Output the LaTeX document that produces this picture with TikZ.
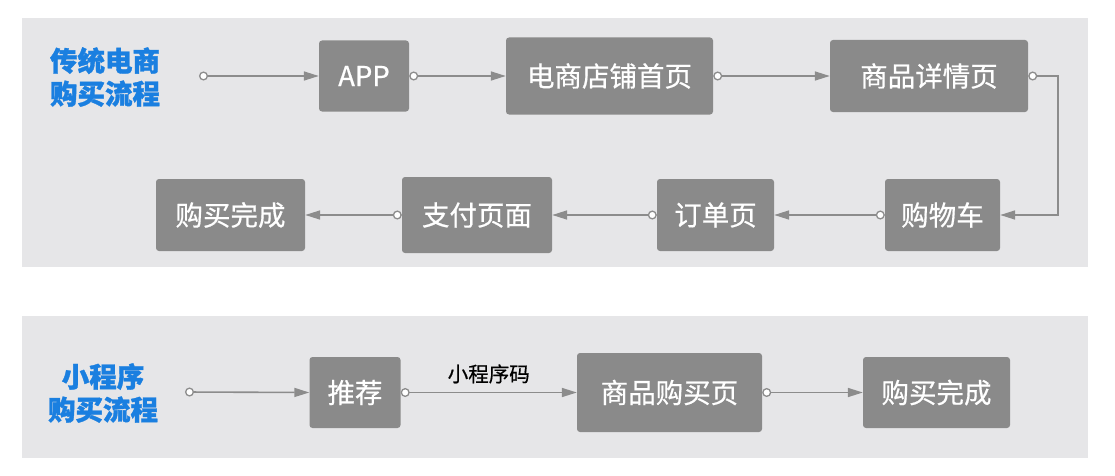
\documentclass[tikz,border=0pt]{standalone}
\usepackage{fontspec}
\setmainfont{Noto Sans CJK SC}
\newfontfamily\titlefont[BoldFeatures={FakeBold=1.2}]{Noto Sans CJK SC}
\newfontfamily\boxfont[FakeBold=0.6]{Noto Sans CJK SC}
\usetikzlibrary{arrows.meta}

\definecolor{panelgray}{HTML}{E6E6E8}
\definecolor{boxgray}{HTML}{8A8A8A}
\definecolor{linegray}{HTML}{8C8C8C}
\definecolor{titleblue}{HTML}{1A7FE0}

\tikzset{
  page/.style={draw=none,fill=boxgray,rounded corners=3pt,text=white,
    font=\boxfont\fontsize{27.5}{30}\selectfont,inner sep=0pt},
  flow/.style={draw=linegray,line width=1.6pt,
    {Circle[open,fill=white,length=9pt,width=9pt,line width=1.3pt]}-{Triangle[length=15pt,width=9pt]}},
  lead/.style={flow},
  title/.style={text=titleblue,align=center,font=\titlefont\fontsize{27.5}{33}\selectfont\bfseries}
}

\begin{document}
\begin{tikzpicture}[x=1pt,y=1pt]

\useasboundingbox (0,0) rectangle (1115,475);

% The two grey panels
\fill[panelgray] (22,208) rectangle (1088,457);
\fill[panelgray] (22,17) rectangle (1088,159);

% Traditional e-commerce flow
\node[title] (title1) at (105,398) {传统电商\\购买流程};
\coordinate (s1) at (199,399);
\node[page,minimum width=90pt,minimum height=71pt] (app) at (364,399) {APP};
\node[page,minimum width=207pt,minimum height=77pt] (shop) at (609.5,399) {电商店铺首页};
\node[page,minimum width=198pt,minimum height=72pt] (detail) at (929,399) {商品详情页};
\node[page,minimum width=115pt,minimum height=72pt] (cart) at (942.5,260) {购物车};
\node[page,minimum width=117pt,minimum height=72pt] (order) at (715.5,260) {订单页};
\node[page,minimum width=150pt,minimum height=76pt] (pay) at (477,260) {支付页面};
\node[page,minimum width=149pt,minimum height=72pt] (done) at (230.5,260) {购买完成};

\draw[lead] (s1) -- (app.west);
\draw[flow] (app.east) -- (shop.west);
\draw[flow] (shop.east) -- (detail.west);
\draw[flow] (detail.east) -- (1058,399) |- (cart.east);
\draw[flow] (cart.west) -- (order.east);
\draw[flow] (order.west) -- (pay.east);
\draw[flow] (pay.west) -- (done.east);

% Mini program flow
\node[title] (title2) at (103,82) {小程序\\购买流程};
\coordinate (s2) at (185,83);
\node[page,minimum width=91pt,minimum height=71pt] (rec) at (355,82.5) {推荐};
\node[page,minimum width=185pt,minimum height=79pt] (buy) at (669.5,82.5) {商品购买页};
\node[page,minimum width=147pt,minimum height=71pt] (done2) at (936.5,82.5) {购买完成};

\draw[lead] (s2) -- (rec.west);
\draw[flow] (rec.east) -- node[above=5pt,text=black,font=\boxfont\fontsize{20.5}{24}\selectfont] (code) {小程序码} (buy.west);
\draw[flow] (buy.east) -- (done2.west);

\end{tikzpicture}
\end{document}
